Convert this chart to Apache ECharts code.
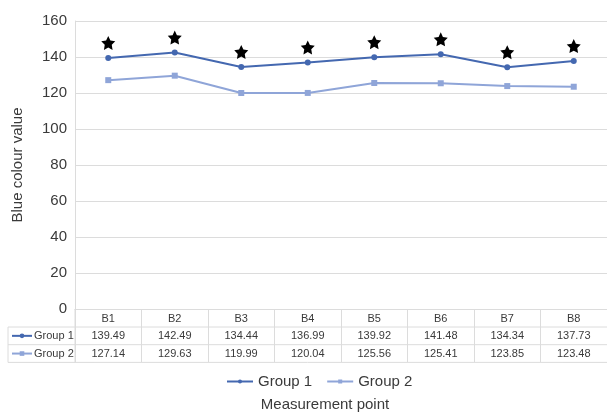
<!DOCTYPE html>
<html>
<head>
<meta charset="utf-8">
<script src="https://cdn.jsdelivr.net/npm/echarts@6/dist/echarts.min.js"></script>
<style>
html,body{margin:0;padding:0;background:#fff;}
#c{width:607px;height:412px;}
</style>
</head>
<body>
<div id="c"></div>
<script>
const categories = ['B1','B2','B3','B4','B5','B6','B7','B8'];
const group1 = [139.49,142.49,134.44,136.99,139.92,141.48,134.34,137.73];
const group2 = [127.14,129.63,119.99,120.04,125.56,125.41,123.85,123.48];
const group1Labels = ['139.49','142.49','134.44','136.99','139.92','141.48','134.34','137.73'];
const group2Labels = ['127.14','129.63','119.99','120.04','125.56','125.41','123.85','123.48'];
const seriesNames = ['Group 1','Group 2'];
const yTicks = {min:0, max:160, interval:20};

const C1 = '#4468b0';
const C2 = '#8fa5d8';
const GRIDC = '#dcdcdc';
const TXT = '#3a3a3a';
const FONT = '"Liberation Sans", Arial, sans-serif';
const STAR = 'path://M50,2 L64.69,31.77 L97.55,36.55 L73.78,59.73 L79.39,92.45 L50,77 L20.61,92.45 L26.22,59.73 L2.45,36.55 L35.31,31.77 Z';

const chart = echarts.init(document.getElementById('c'), null, {renderer:'canvas'});
const option = {
  animation:false,
  textStyle:{fontFamily:FONT},
  grid:{left:75, right:0, top:21, bottom:103},
  legend:{
    data:seriesNames, left:221, top:369, itemWidth:26, itemHeight:5, itemGap:14,
    textStyle:{fontSize:15, color:TXT, fontFamily:FONT}
  },
  xAxis:{
    type:'category', data:categories, boundaryGap:true,
    axisLine:{show:true, lineStyle:{color:GRIDC, width:1}},
    axisTick:{show:true, length:53, lineStyle:{color:GRIDC}},
    axisLabel:{fontSize:11, color:TXT, margin:4, fontFamily:FONT},
    splitLine:{show:false}
  },
  yAxis:{
    type:'value', min:yTicks.min, max:yTicks.max, interval:yTicks.interval,
    name:'Blue colour value', nameLocation:'middle', nameGap:50,
    nameTextStyle:{fontSize:15, color:TXT, fontFamily:FONT},
    axisLine:{show:true, lineStyle:{color:GRIDC}},
    axisTick:{show:false},
    axisLabel:{fontSize:15, color:TXT, margin:8, fontFamily:FONT},
    splitLine:{lineStyle:{color:GRIDC}}
  },
  series:[
    {name:seriesNames[0], type:'line', data:group1, symbol:'circle', symbolSize:6,
     lineStyle:{color:C1, width:2}, itemStyle:{color:C1}, z:3},
    {name:seriesNames[1], type:'line', data:group2, symbol:'rect', symbolSize:6,
     lineStyle:{color:C2, width:2}, itemStyle:{color:C2}, z:3},
    {name:'sig', type:'scatter', data:group1, symbol:STAR, symbolSize:14,
     symbolOffset:[0,-15], itemStyle:{color:'#000', opacity:1}, silent:true, z:4}
  ]
};
chart.setOption(option);

// Data table below the axis, positioned from the chart's own scales
const y0 = chart.convertToPixel({yAxisIndex:0}, 0);
const plotLeft = chart.convertToPixel({xAxisIndex:0}, 0) - (chart.convertToPixel({xAxisIndex:0}, 1) - chart.convertToPixel({xAxisIndex:0}, 0))/2;
const rowH = 17.7;
const r1 = y0 + 18, r2 = r1 + rowH, r3 = r2 + rowH;
const tableLeft = 8, right = 607;
const g = [];
[r1, r2, r3].forEach(y => g.push({type:'line', shape:{x1:tableLeft, y1:y, x2:right, y2:y}, style:{stroke:GRIDC, lineWidth:1}}));
g.push({type:'line', shape:{x1:tableLeft, y1:r1, x2:tableLeft, y2:r3}, style:{stroke:GRIDC, lineWidth:1}});
g.push({type:'line', shape:{x1:plotLeft, y1:y0, x2:plotLeft, y2:r3}, style:{stroke:GRIDC, lineWidth:1}});
const rows = [[seriesNames[0], group1Labels, C1, 'circle', r1], [seriesNames[1], group2Labels, C2, 'rect', r2]];
rows.forEach(([nm, labels, col, sym, top]) => {
  const cy = top + rowH/2;
  g.push({type:'line', shape:{x1:12, y1:cy, x2:32, y2:cy}, style:{stroke:col, lineWidth:2}});
  if (sym === 'circle') g.push({type:'circle', shape:{cx:22, cy:cy, r:2.3}, style:{fill:col}});
  else g.push({type:'rect', shape:{x:19.7, y:cy-2.3, width:4.6, height:4.6}, style:{fill:col}});
  g.push({type:'text', x:34, y:cy, style:{text:nm, fontSize:11, fill:TXT, fontFamily:FONT, textVerticalAlign:'middle', textAlign:'left'}});
  labels.forEach((t, i) => {
    const x = chart.convertToPixel({xAxisIndex:0}, i);
    g.push({type:'text', x:x, y:cy, style:{text:t, fontSize:11, fill:TXT, fontFamily:FONT, textVerticalAlign:'middle', textAlign:'center'}});
  });
});
g.push({type:'text', x:325, y:405, style:{text:'Measurement point', fontSize:15, fill:TXT, fontFamily:FONT, textAlign:'center', textVerticalAlign:'middle'}});
chart.setOption({graphic:g});
</script>
</body>
</html>
